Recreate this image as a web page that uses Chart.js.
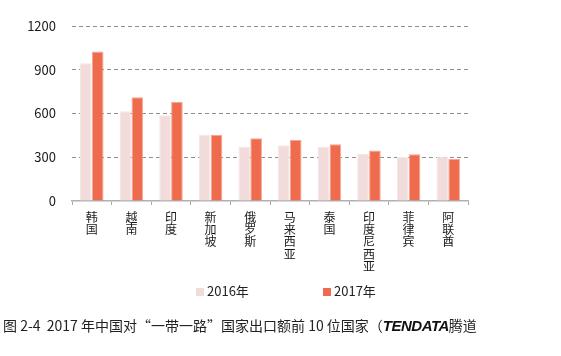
<!DOCTYPE html>
<html>
<head>
<meta charset="utf-8">
<script src="https://cdn.jsdelivr.net/npm/chart.js@4/dist/chart.umd.min.js"></script>
<style>
html,body{margin:0;padding:0;background:#fff;}
#wrap{position:relative;width:561px;height:356px;overflow:hidden;}
#c{position:absolute;left:0;top:0;}
.leg{position:absolute;top:281px;font:13px "Noto Sans CJK SC",sans-serif;color:#222;white-space:nowrap;}
.leg i{display:inline-block;width:8px;height:8px;margin-right:3px;vertical-align:0px;}
#cap{position:absolute;left:3px;top:315px;font:14px "Noto Sans CJK SC",sans-serif;color:#222;white-space:nowrap;}
#cap b{font:italic 900 15px "Liberation Sans",sans-serif;letter-spacing:-0.5px;color:#111;}
</style>
</head>
<body>
<div id="wrap">
<canvas id="c" width="561" height="356"></canvas>
<div class="leg" style="left:196px"><i style="background:#F2DCDB"></i>2016年</div>
<div class="leg" style="left:323px"><i style="background:#EE6B4D"></i>2017年</div>
<div id="cap">图 2-4&nbsp; 2017 年中国对“一带一路”国家出口额前 10 位国家（<b>TENDATA</b>腾道</div>
</div>
<script>
const categories = ["韩国","越南","印度","新加坡","俄罗斯","马来西亚","泰国","印度尼西亚","菲律宾","阿联酋"];
const values2016 = [944, 615, 588, 453, 372, 382, 372, 322, 302, 304];
const values2017 = [1026, 711, 681, 455, 430, 418, 389, 347, 320, 288];
const yTicks = [0, 300, 600, 900, 1200];
const seriesNames = ["2016年", "2017年"];

const FONT = '"Noto Sans CJK SC", sans-serif';
new Chart(document.getElementById('c'), {
  type: 'bar',
  data: {
    labels: categories.map(s => s.split('')),
    datasets: [
      {label: seriesNames[0], data: values2016, backgroundColor: '#F2DCDB', borderColor: '#F6E6E5', borderWidth: 1, categoryPercentage: 0.6, barPercentage: 0.98},
      {label: seriesNames[1], data: values2017, backgroundColor: '#EE6B4D', borderColor: '#F5A695', borderWidth: 1, categoryPercentage: 0.6, barPercentage: 0.98}
    ]
  },
  options: {
    responsive: false,
    animation: false,
    events: [],
    layout: {padding: {left: 0, right: 93, top: 26, bottom: 0}},
    plugins: {legend: {display: false}, tooltip: {enabled: false}},
    scales: {
      x: {
        grid: {offset: true, drawOnChartArea: false, drawTicks: true, tickLength: 4, color: '#A6A6A6'},
        border: {display: true, color: '#B0B0B0', width: 1.5},
        ticks: {maxRotation: 0, minRotation: 0, autoSkip: false, padding: 6, color: '#1a1a1a', font: {family: FONT, size: 12, lineHeight: 1.03}},
        afterFit: s => { s.height = 155; }
      },
      y: {
        min: 0, max: 1200,
        afterBuildTicks: s => { s.ticks = yTicks.map(v => ({value: v})); },
        grid: {drawTicks: false, color: c => c.tick.value === 0 ? 'rgba(0,0,0,0)' : '#8E8E8E', lineWidth: 1},
        border: {display: false, dash: [4, 3]},
        ticks: {padding: 16, color: '#1a1a1a', font: {family: FONT, size: 13}, callback: v => String(v)},
        afterFit: s => { s.width = 72; }
      }
    }
  }
});
</script>
</body>
</html>
